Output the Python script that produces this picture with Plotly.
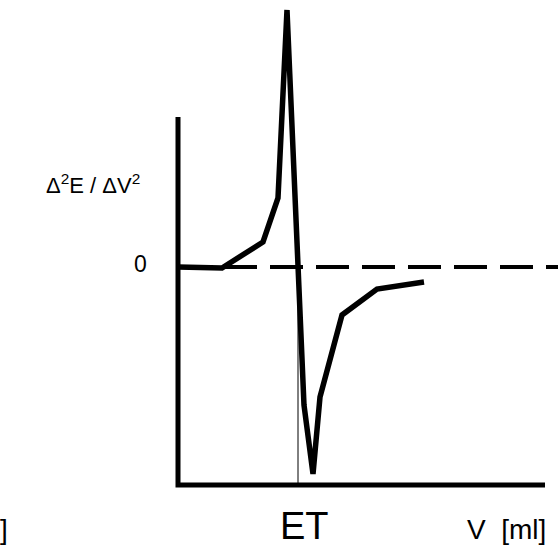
import plotly.graph_objects as go

# Data (V in arbitrary ml units, second derivative in arbitrary units)
volume = [0.0, 4.4, 8.5, 10.0, 10.9, 12.6, 13.5, 14.2, 16.4, 19.9, 24.6]
d2E = [0.0, -0.1, 2.5, 6.9, 25.7, -13.8, -20.7, -13.0, -4.8, -2.2, -1.5]
et_volume = 12.0
axis_x_end = 36.7
axis_y_top = 15.0
axis_y_bottom = -21.8

W, H = 558, 547
x_range = [-17.8, 38.0]
y_range = [-28.0, 26.7]

fig = go.Figure()

# zero dashed line
fig.add_trace(go.Scatter(x=[0, x_range[1]], y=[0, 0], mode="lines",
                         line=dict(color="black", width=4, dash="33px,13px"),
                         hoverinfo="skip", showlegend=False))
# ET thin line
fig.add_trace(go.Scatter(x=[et_volume, et_volume], y=[0, axis_y_bottom], mode="lines",
                         line=dict(color="black", width=1),
                         hoverinfo="skip", showlegend=False))
# axes
fig.add_trace(go.Scatter(x=[0, 0, axis_x_end], y=[axis_y_top, axis_y_bottom, axis_y_bottom],
                         mode="lines", line=dict(color="black", width=5),
                         hoverinfo="skip", showlegend=False))
# curve
fig.add_trace(go.Scatter(x=volume, y=d2E, mode="lines",
                         line=dict(color="black", width=5.5),
                         hoverinfo="skip", showlegend=False))

font = "Liberation Sans, Arial, sans-serif"

def px(x, y):
    return x / W, 1 - y / H

ann = []
x0, y0 = px(142, 184)
ann.append(dict(x=x0, y=y0, xref="paper", yref="paper", xanchor="right", yanchor="middle",
                text="\u0394<sup>2</sup>E / \u0394V<sup>2</sup>", showarrow=False,
                font=dict(family=font, size=22, color="black")))
x0, y0 = px(149, 264)
ann.append(dict(x=x0, y=y0, xref="paper", yref="paper", xanchor="right", yanchor="middle",
                text="0", showarrow=False, font=dict(family=font, size=23, color="black")))
x0, y0 = px(304, 526)
ann.append(dict(x=x0, y=y0, xref="paper", yref="paper", xanchor="center", yanchor="middle",
                text="ET", showarrow=False, font=dict(family=font, size=38, color="black")))
x0, y0 = px(548, 529)
ann.append(dict(x=x0, y=y0, xref="paper", yref="paper", xanchor="right", yanchor="middle",
                text="V\u00a0 [ml]", showarrow=False, font=dict(family=font, size=28, color="black")))
x0, y0 = px(10, 529)
ann.append(dict(x=x0, y=y0, xref="paper", yref="paper", xanchor="right", yanchor="middle",
                text="]", showarrow=False, font=dict(family=font, size=28, color="black")))

fig.update_layout(
    width=W, height=H,
    margin=dict(l=0, r=0, t=0, b=0),
    paper_bgcolor="white", plot_bgcolor="white",
    xaxis=dict(range=x_range, visible=False, fixedrange=True),
    yaxis=dict(range=y_range, visible=False, fixedrange=True),
    annotations=ann,
    showlegend=False,
)

fig.write_html("out.html")
